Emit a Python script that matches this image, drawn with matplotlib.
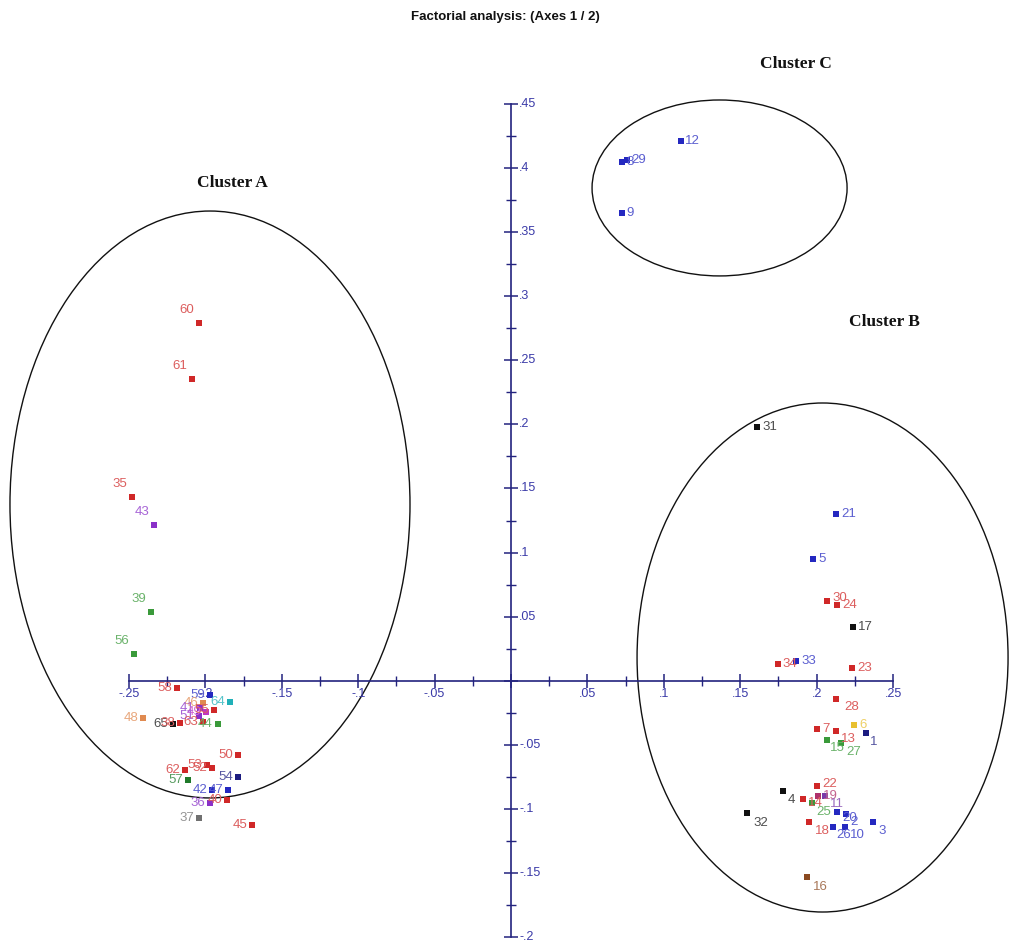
import matplotlib
matplotlib.use("Agg")
import matplotlib.pyplot as plt
from matplotlib.patches import Ellipse
from matplotlib.ticker import FixedLocator
import matplotlib.colors as mcolors
import numpy as np

# ---------------- data ----------------
labels_c = ["12", "29", "8", "9"]
x_c = [0.1113, 0.0759, 0.0726, 0.0726]
y_c = [0.4212, 0.4063, 0.4048, 0.3650]
col_c = ["blue", "blue", "blue", "blue"]

labels_b = ["31", "21", "5", "30", "24", "17", "34", "33", "23", "28",
            "7", "13", "6", "1", "15", "27", "4", "14", "25", "22",
            "19", "11", "2", "20", "18", "26", "10", "3", "32", "16"]
x_b = [0.161, 0.2127, 0.1976, 0.2068, 0.2134, 0.2238, 0.1747, 0.1865, 0.2232, 0.2127,
       0.2003, 0.2127, 0.2245, 0.2323, 0.2068, 0.2160, 0.1780, 0.1911, 0.1970, 0.2003,
       0.2009, 0.2055, 0.2192, 0.2134, 0.1950, 0.2107, 0.2186, 0.2369, 0.1545, 0.1937]
y_b = [0.198, 0.130, 0.0950, 0.0622, 0.0591, 0.0419, 0.0130, 0.0154, 0.0099, -0.0142,
       -0.0376, -0.0392, -0.0345, -0.0408, -0.0463, -0.0486, -0.0860, -0.0922, -0.0953, -0.0821,
       -0.0899, -0.0899, -0.1039, -0.1023, -0.1101, -0.1140, -0.1140, -0.1101, -0.1031, -0.1531]
col_b = ["black", "blue", "blue", "red", "red", "black", "red", "blue", "red", "red",
         "red", "red", "yellow", "navy", "green", "green", "black", "red", "green", "red",
         "plum", "violet", "blue", "blue", "red", "blue", "blue", "blue", "black", "brown"]

labels_a = ["60", "61", "35", "43", "39", "56", "58", "59", "64", "46",
            "41", "49", "51", "55", "48", "65", "38", "63", "44", "50",
            "53", "62", "52", "57", "54", "47", "42", "36", "40", "37", "45"]
x_a = [-0.2042, -0.2088, -0.2480, -0.2336, -0.2356, -0.2467, -0.2186, -0.1970, -0.1839, -0.2016,
       -0.2035, -0.1996, -0.2042, -0.1944, -0.2408, -0.2212, -0.2166, -0.2016, -0.1918, -0.1787,
       -0.1990, -0.2134, -0.1957, -0.2114, -0.1787, -0.1852, -0.1957, -0.1970, -0.1859, -0.2042, -0.1695]
y_a = [0.2790, 0.2355, 0.1433, 0.1215, 0.0536, 0.0209, -0.0057, -0.0111, -0.0166, -0.0174,
       -0.0213, -0.0244, -0.0275, -0.0228, -0.0291, -0.0338, -0.0330, -0.0322, -0.0338, -0.0580,
       -0.0657, -0.0695, -0.0679, -0.0775, -0.0754, -0.0853, -0.0853, -0.0954, -0.0931, -0.1071, -0.1126]
col_a = ["red", "red", "red", "purple", "green", "green", "red", "blue", "cyan", "orange",
         "purple", "magenta", "purple", "red", "orange", "black", "red", "red", "green", "red",
         "red", "red", "red", "dgreen", "navy", "blue", "blue", "purple", "red", "grey", "red"]

x_ticks = [-0.25, -0.2, -0.15, -0.1, -0.05, 0.05, 0.1, 0.15, 0.2, 0.25]
y_ticks = [0.45, 0.4, 0.35, 0.3, 0.25, 0.2, 0.15, 0.1, 0.05, -0.05, -0.1, -0.15, -0.2]

# ---------------- styles ----------------
palette = {
    "red": "#d02828", "blue": "#2428c0", "navy": "#1c1c80", "black": "#111111",
    "green": "#3a9a3a", "dgreen": "#1f7a2a", "purple": "#8a30c8", "magenta": "#c038c0",
    "violet": "#7a3aa8", "plum": "#b0306a", "orange": "#e08a50", "yellow": "#e8c030",
    "cyan": "#20b0b8", "grey": "#707070", "brown": "#8b4a20",
}
AX_COL = "#23237e"
TXT_COL = "#3a3aa8"

def light(c, f=0.25):
    r, g, b = mcolors.to_rgb(c)
    return (r + (1 - r) * f, g + (1 - g) * f, b + (1 - b) * f)

# label offsets in pixels
off_b = {"28": (8, -8), "4": (5, -9), "25": (4, -9), "18": (6, -9), "26": (3, -8),
         "10": (5, -8), "3": (5, -9), "32": (6, -10), "16": (6, -10), "15": (3, -8),
         "27": (5, -9), "1": (4, -9), "13": (5, -8), "2": (4, -8), "11": (5, -8),
         "30": (5, 3), "22": (5, 2), "14": (5, -4), "20": (5, -6)}
upper_a = {"60", "61", "35", "43", "39", "56"}

W, H = 1010, 952
fig = plt.figure(figsize=(W / 100, H / 100), dpi=100)
ax = fig.add_axes([0, 0, 1, 1])
ax.set_facecolor("white")

X0, SX = 511, 1528.0
Y0, SY = 680.7, 1281.5
ax.set_xlim((0 - X0) / SX, (W - X0) / SX)
ax.set_ylim((Y0 - H) / SY, (Y0 - 0) / SY)

for s in ["top", "right"]:
    ax.spines[s].set_visible(False)
ax.spines["left"].set_position(("data", 0))
ax.spines["bottom"].set_position(("data", 0))
ax.spines["left"].set_bounds(-0.2, 0.45)
ax.spines["bottom"].set_bounds(-0.25, 0.25)
for s in ["left", "bottom"]:
    ax.spines[s].set_color(AX_COL)
    ax.spines[s].set_linewidth(1.2)

xmaj = np.round(np.arange(-0.25, 0.2501, 0.05), 3)
xmin = np.round(np.arange(-0.225, 0.2251, 0.05), 4)
ymaj = np.round(np.arange(-0.2, 0.4501, 0.05), 3)
ymin = np.round(np.arange(-0.175, 0.4251, 0.05), 4)
ax.xaxis.set_major_locator(FixedLocator(xmaj))
ax.xaxis.set_minor_locator(FixedLocator(xmin))
ax.yaxis.set_major_locator(FixedLocator(ymaj))
ax.yaxis.set_minor_locator(FixedLocator(ymin))
ax.tick_params(which="major", direction="inout", length=10, width=1.1, color=AX_COL,
               labelbottom=False, labelleft=False)
ax.tick_params(which="minor", direction="inout", length=6.5, width=1.0, color=AX_COL)

def fmt(v):
    s = f"{abs(v):.2f}".rstrip("0").lstrip("0")
    return ("-" if v < 0 else "") + s

tick_font = dict(family=["Liberation Sans", "DejaVu Sans"], fontsize=9, color=TXT_COL)
for v in x_ticks:
    ax.annotate(fmt(v), (v, 0), xytext=(0, -7), textcoords="offset pixels",
                ha="center", va="top", **tick_font)
for v in y_ticks:
    ax.annotate(fmt(v), (0, v), xytext=(8, 0), textcoords="offset pixels",
                ha="left", va="center", **tick_font)

pt_font = dict(family=["Liberation Sans", "DejaVu Sans"], fontsize=9.5)

def draw(xs, ys, labs, cols, group):
    for x, y, lab, c in zip(xs, ys, labs, cols):
        col = palette[c]
        ax.scatter([x], [y], s=18, marker="s", color=col, linewidths=0, zorder=3)
        if group == "a":
            dx, dy = (-5, 13) if lab in upper_a else (-5, 0)
            ha = "right"
        else:
            dx, dy = off_b.get(lab, (5, 0)) if group == "b" else (4, 0)
            ha = "left"
        ax.annotate(lab, (x, y), xytext=(dx, dy), textcoords="offset pixels",
                    ha=ha, va="center", color=light(col), zorder=4, **pt_font)

draw(x_c, y_c, labels_c, col_c, "c")
draw(x_b, y_b, labels_b, col_b, "b")
draw(x_a, y_a, labels_a, col_a, "a")

# cluster ellipses
ellipses = [(-0.197, 0.1375, 0.2618, 0.458),
            (0.2039, 0.0181, 0.2428, 0.3972),
            (0.1365, 0.3845, 0.1669, 0.1373)]
for cx, cy, w, h in ellipses:
    ax.add_patch(Ellipse((cx, cy), w, h, fill=False, edgecolor="#111111", linewidth=1.0))

serif = dict(family=["Liberation Serif", "DejaVu Serif"], fontsize=12.5, fontweight="bold",
             color="#111111", ha="center", va="center")
fig.text(232 / W, 1 - 183 / H, "Cluster A", **serif)
fig.text(884 / W, 1 - 322 / H, "Cluster B", **serif)
fig.text(796 / W, 1 - 64 / H, "Cluster C", **serif)

fig.text(505 / W, 1 - 17 / H, "Factorial analysis: (Axes 1 / 2)",
         family=["Liberation Sans", "DejaVu Sans"], fontsize=9.5, fontweight="bold",
         color="#111111", ha="center", va="center")

fig.savefig("out.png", dpi=100, facecolor="white")
